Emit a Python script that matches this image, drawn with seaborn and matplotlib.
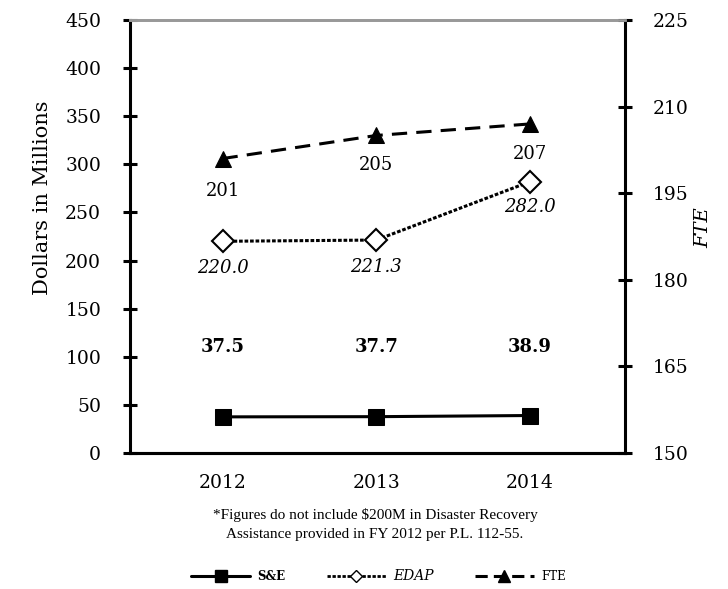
import matplotlib
matplotlib.use("Agg")
import matplotlib.pyplot as plt
import seaborn as sns
import pandas as pd
from matplotlib.lines import Line2D

years = ["2012", "2013", "2014"]
se_values = [37.5, 37.7, 38.9]
edap_values = [220.0, 221.3, 282.0]
fte_values = [201, 205, 207]
left_ticks = [0, 50, 100, 150, 200, 250, 300, 350, 400, 450]
right_ticks = [150, 165, 180, 195, 210, 225]

sns.set_theme(style="white")
plt.rcParams["font.family"] = ["DejaVu Serif"]
plt.rcParams.update({"text.color": "black", "axes.labelcolor": "black",
                     "xtick.color": "black", "ytick.color": "black"})

df = pd.DataFrame({"x": range(len(years)), "se": se_values, "edap": edap_values, "fte": fte_values})

fig = plt.figure(figsize=(7.28, 5.89), dpi=100)
ax = fig.add_axes([0.179, 0.231, 0.680, 0.735])
ax2 = ax.twinx()

sns.lineplot(data=df, x="x", y="se", ax=ax, color="black", lw=2.2, marker="s",
             markersize=11, markeredgecolor="black", markerfacecolor="black")
sns.lineplot(data=df, x="x", y="edap", ax=ax, color="black", lw=2.2, marker="D",
             markersize=11, markerfacecolor="white", markeredgecolor="black", markeredgewidth=1.5,
             linestyle=(0, (1.2, 0.6)))
sns.lineplot(data=df, x="x", y="fte", ax=ax2, color="black", lw=2.2, marker="^",
             markersize=11, markeredgecolor="black", markerfacecolor="black",
             linestyle=(0, (5, 3)))

ax.set_ylim(0, 450)
ax2.set_ylim(150, 225)
ax.set_xlim(-0.6, 2.62)
ax.set_yticks(left_ticks)
ax2.set_yticks(right_ticks)
ax.set_xticks(range(len(years)))
ax.set_xticklabels(years)

for a in (ax, ax2):
    for s in ["left", "right", "bottom"]:
        a.spines[s].set_color("black")
        a.spines[s].set_linewidth(2.2)
    a.spines["top"].set_color("#999999")
    a.spines["top"].set_linewidth(2)
    a.tick_params(axis="both", which="major", length=10, width=2.2, color="black",
                  direction="inout", labelsize=13.5, labelcolor="black")
    a.grid(False)
ax2.spines["left"].set_visible(False)
ax.spines["right"].set_visible(False)
ax.tick_params(axis="y", pad=16)
ax2.tick_params(axis="y", pad=15)
ax.tick_params(axis="x", pad=10)

ax.set_xlabel("")
ax.set_ylabel("Dollars in Millions", fontsize=15)
ax.yaxis.set_label_coords(-0.158, 0.59)
ax2.set_ylabel("FTE", fontsize=14, style="italic")
ax2.yaxis.set_label_coords(1.14, 0.52)

for i, v in enumerate(se_values):
    ax.text(i, 110, f"{v:.1f}", ha="center", va="center", fontsize=13, fontweight="bold")
edap_offsets = [-28, -28, -26]
for i, v in enumerate(edap_values):
    ax.text(i, v + edap_offsets[i], f"{v:.1f}", ha="center", va="center", fontsize=13, style="italic")
fte_offsets = [-5.6, -5.2, -5.2]
for i, v in enumerate(fte_values):
    ax2.text(i, v + fte_offsets[i], f"{v}", ha="center", va="center", fontsize=13)

fig.text(0.515, 0.109, "*Figures do not include $200M in Disaster Recovery\nAssistance provided in FY 2012 per P.L. 112-55.",
         ha="center", va="center", fontsize=11, linespacing=1.6, family="Liberation Serif")

handles = [
    Line2D([], [], color="black", lw=2.2, marker="s", markersize=8),
    Line2D([], [], color="black", lw=2.0, marker="D", markersize=6, markerfacecolor="white",
           linestyle=(0, (1.2, 0.6))),
    Line2D([], [], color="black", lw=2.2, marker="^", markersize=8, linestyle=(0, (4, 2))),
]
leg = fig.legend(handles, ["S&E", "EDAP", "FTE"], loc="center", bbox_to_anchor=(0.52, 0.022),
                 ncol=3, frameon=False, fontsize=8.5, handlelength=5, columnspacing=3.5,
                 handletextpad=0.6)
leg.get_texts()[0].set_fontweight("bold")
leg.get_texts()[1].set_fontstyle("italic")
leg.get_texts()[1].set_fontsize(10)

fig.savefig("out.png", dpi=100)
